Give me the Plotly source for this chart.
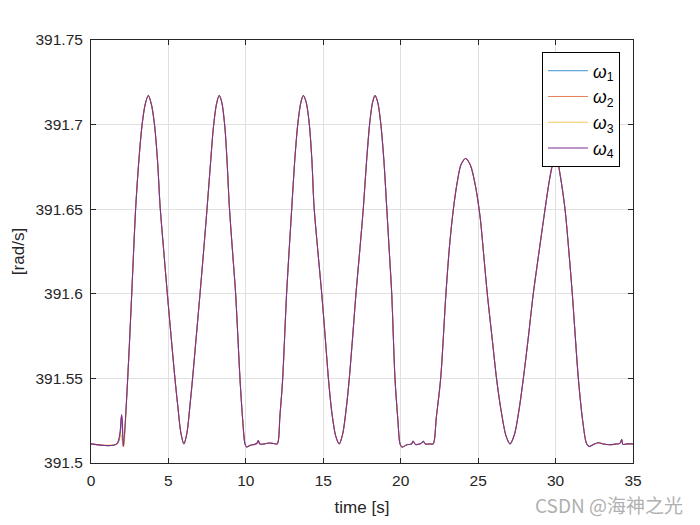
import plotly.graph_objects as go

# ---- data ----
# early part differs slightly between series
t_early_w1 = [0, 1.70, 1.97, 2.09]
w_early_w1 = [391.5113, 391.5113, 391.5270, 391.5098]
t_early_w2 = [0, 1.68, 1.98, 2.09]
w_early_w2 = [391.5113, 391.5113, 391.5280, 391.5098]
t_early_w3 = [0, 1.66, 1.90, 2.09]
w_early_w3 = [391.5113, 391.5113, 391.5175, 391.5098]
t_early_w4 = [0, 1.66, 1.98, 2.09]
w_early_w4 = [391.5113, 391.5113, 391.5286, 391.5098]

# common trajectory after t = 2.09 s
t_common = [2.37, 2.63, 2.88, 3.1, 3.3, 3.5, 3.7, 3.9, 4.1, 4.3, 4.46, 4.7, 4.93, 5.18, 5.42, 5.6, 5.8, 6.0,
            6.2, 6.38, 6.56, 6.8, 7.04, 7.27, 7.49, 7.7, 7.9, 8.1, 8.28, 8.45, 8.65, 8.8, 8.93, 9.14, 9.34,
            9.62, 9.8, 9.94, 10.05, 10.3, 10.55, 10.7, 10.8, 10.9, 11.2, 11.5, 11.8, 12.03,
            12.2, 12.38, 12.63, 12.96, 13.15, 13.35, 13.55, 13.71, 13.9, 14.1, 14.27, 14.4, 14.65, 14.9,
            15.12, 15.33, 15.55, 15.8, 16.03, 16.25, 16.48, 16.68, 16.9, 17.11, 17.35, 17.58, 17.8, 18.0,
            18.18, 18.34, 18.52, 18.72, 18.92, 19.09, 19.25, 19.42, 19.63, 19.82, 19.95, 20.08, 20.4,
            20.7, 20.8, 20.95, 21.3, 21.46, 21.6, 21.9, 22.1,
            22.3, 22.58, 22.92, 23.15, 23.4, 23.65, 23.9, 24.2, 24.5, 24.8, 25.12, 25.35, 25.59, 25.9, 26.2,
            26.5, 26.8, 27.06, 27.35, 27.65, 27.92, 28.25, 28.56, 28.95, 29.32, 29.6, 29.8, 29.96, 30.12,
            30.3, 30.61, 30.85, 31.08, 31.47, 31.75, 32.0, 32.18, 32.45, 32.76, 33.1, 33.5, 33.9, 34.15,
            34.27, 34.35, 34.6, 35.0]
w_common = [391.550, 391.600, 391.650, 391.680, 391.700, 391.712, 391.7172, 391.712, 391.700, 391.678,
            391.652, 391.625, 391.600, 391.574, 391.550, 391.534, 391.518, 391.5113,
            391.518, 391.533, 391.550, 391.575, 391.600, 391.625, 391.650, 391.675, 391.698, 391.712,
            391.7172, 391.713, 391.698, 391.676, 391.652, 391.625, 391.600,
            391.550, 391.525, 391.5115, 391.5095, 391.5105, 391.5110, 391.5115, 391.5132, 391.5112,
            391.5113, 391.5118, 391.5115, 391.5113,
            391.528, 391.550, 391.600, 391.650, 391.678, 391.700, 391.713, 391.7172, 391.713, 391.700,
            391.678, 391.652, 391.625, 391.600,
            391.575, 391.550, 391.530, 391.516, 391.5113, 391.517, 391.532, 391.550, 391.575, 391.600,
            391.625, 391.650, 391.679, 391.701,
            391.713, 391.7172, 391.713, 391.700, 391.678, 391.652, 391.627, 391.600, 391.550, 391.525,
            391.5115, 391.5094, 391.5108,
            391.5112, 391.5130, 391.5110, 391.5115, 391.5128, 391.5112, 391.5113, 391.5113,
            391.527, 391.550, 391.600, 391.628, 391.650, 391.666, 391.6765, 391.680, 391.676, 391.665,
            391.646, 391.624, 391.600, 391.574, 391.549,
            391.530, 391.516, 391.5113, 391.517, 391.532, 391.550, 391.575, 391.600, 391.626, 391.650,
            391.667, 391.676, 391.679, 391.678,
            391.670, 391.650, 391.626, 391.600, 391.550, 391.525, 391.5115, 391.5098, 391.5110, 391.5120,
            391.5112, 391.5108, 391.5112, 391.5116,
            391.5138, 391.5110, 391.5113, 391.5113]

names = ["<i>ω</i><sub>1</sub>", "<i>ω</i><sub>2</sub>", "<i>ω</i><sub>3</sub>", "<i>ω</i><sub>4</sub>"]
colors = ["#0072BD", "#D95319", "#EDB120", "#7E2F8E"]
widths = [0.75, 0.75, 0.75, 1.1]
early_t = [t_early_w1, t_early_w2, t_early_w3, t_early_w4]
early_w = [w_early_w1, w_early_w2, w_early_w3, w_early_w4]

x_ticks = [0, 5, 10, 15, 20, 25, 30, 35]
y_ticks = [391.5, 391.55, 391.6, 391.65, 391.7, 391.75]
y_tick_text = ["391.5", "391.55", "391.6", "391.65", "391.7", "391.75"]

fig = go.Figure()
for name, c, lw, te, we in zip(names, colors, widths, early_t, early_w):
    fig.add_trace(go.Scatter(x=te + t_common, y=we + w_common, mode="lines", name=name,
                             line=dict(color=c, width=lw, shape="spline", smoothing=0.8)))

axis_col = "#262626"
font_fam = "Liberation Sans, Arial, sans-serif"
fig.update_layout(
    width=700, height=525,
    margin=dict(l=91, r=67, t=40, b=59),
    paper_bgcolor="white", plot_bgcolor="white",
    font=dict(family=font_fam, size=15.5, color=axis_col),
    showlegend=True,
    legend=dict(x=0.976, y=0.972, xanchor="right", yanchor="top",
                bgcolor="white", bordercolor="#000000", borderwidth=1,
                font=dict(size=17.5, color="#000000"), tracegroupgap=0,
                itemwidth=40),
)
fig.update_xaxes(range=[0, 35], tickvals=x_ticks, ticktext=[str(v) for v in x_ticks],
                 showline=True, linecolor=axis_col, linewidth=1, mirror="ticks",
                 ticks="inside", ticklen=5, tickcolor=axis_col, ticklabelstandoff=3,
                 showgrid=True, gridcolor="#E0E0E0", gridwidth=1, zeroline=False,
                 title=dict(text="time [s]", font=dict(size=17, color=axis_col), standoff=13))
fig.update_yaxes(range=[391.5, 391.75], tickvals=y_ticks, ticktext=y_tick_text,
                 showline=True, linecolor=axis_col, linewidth=1, mirror="ticks",
                 ticks="inside", ticklen=5, tickcolor=axis_col, ticklabelstandoff=4,
                 showgrid=True, gridcolor="#E0E0E0", gridwidth=1, zeroline=False,
                 title=dict(text="[rad/s]", font=dict(size=17, color=axis_col), standoff=6))

fig.add_annotation(text="CSDN @海神之光", xref="paper", yref="paper",
                   x=1.096, y=-0.097, xanchor="right", yanchor="middle", showarrow=False,
                   font=dict(family="Noto Sans CJK SC, sans-serif", size=19, color="#B0B0B0"))

fig.write_html("out.html")
